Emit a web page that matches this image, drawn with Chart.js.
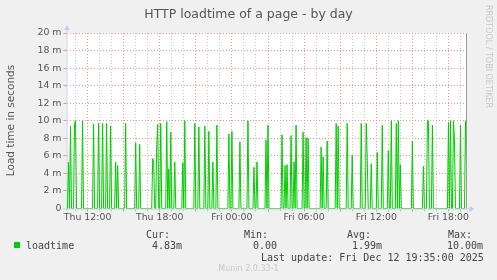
<!DOCTYPE html>
<html lang="en">
  <head>
    <meta charset="UTF-8" />
    <title>HTTP loadtime of a page - by day</title>
    <script src="https://cdn.jsdelivr.net/npm/chart.js"></script>
    <style>
      body {
        margin: 0;
        background-color: #f0f0f0;
        overflow: hidden;
      }
      #chart {
        display: block;
      }
    </style>
  </head>
  <body>
    <canvas id="chart" width="497" height="280"></canvas>

    <script>
      // one sample every 5 minutes, step 0 = Thu 10:15
      // [step, loadtime in ms]
      const loadtimeSamples = [
        [0, 0], [1, 0], [2, 5.3], [3, 0], [4, 9.4], [5, 0], [7, 0], [8, 9.7], [9, 10], [10, 0],
        [15, 0], [16, 10], [17, 0], [26, 0], [27, 9.6], [28, 0], [31, 0], [32, 9.7], [33, 0],
        [35, 0], [36, 9.7], [37, 0], [39, 0], [40, 9.7], [41, 0], [43, 0], [44, 9.4], [45, 0],
        [48, 0], [49, 5.3], [50, 0], [51, 4.9], [52, 0], [58, 0], [59, 9.7], [60, 0],
        [68, 0], [69, 7.5], [70, 0], [72, 0], [73, 7.3], [74, 0], [85, 0], [86, 5.7], [87, 5.2],
        [88, 0], [89, 0], [90, 7.3], [91, 9.6], [92, 0], [93, 0], [94, 9.7], [95, 0],
        [99, 0], [100, 9.9], [101, 0], [102, 4.5], [103, 0], [104, 8.7], [105, 0], [107, 0],
        [108, 5.3], [109, 0], [115, 0], [116, 5.2], [117, 0], [118, 10], [119, 0],
        [127, 0], [128, 9.7], [129, 0], [131, 0], [132, 9.3], [133, 0], [137, 0], [138, 9.4],
        [139, 0], [141, 0], [142, 8.8], [143, 0], [145, 0], [146, 5.3], [147, 0], [149, 0],
        [150, 9.5], [151, 0], [161, 0], [162, 8.5], [163, 0], [164, 0], [165, 8.8], [166, 0],
        [172, 0], [173, 7.6], [174, 0], [180, 0], [181, 10], [182, 0], [186, 0], [187, 4.7],
        [188, 0], [189, 0], [190, 5.3], [191, 0], [198, 0], [199, 7.8], [200, 0], [201, 9.5],
        [202, 0], [214, 0], [215, 8.4], [216, 0], [217, 0], [218, 4.9], [219, 0], [220, 5.0],
        [221, 0], [223, 0], [224, 8.3], [225, 0], [226, 0], [227, 5.3], [228, 0], [229, 9.5],
        [230, 0], [235, 0], [236, 8.7], [237, 0], [238, 0], [239, 8.1], [240, 0], [241, 8.0],
        [242, 0], [253, 0], [254, 7.0], [255, 0], [256, 5.9], [257, 0], [259, 0], [260, 7.7],
        [261, 0], [268, 0], [269, 9.7], [270, 0], [271, 9.4], [272, 0], [279, 0], [280, 9.7],
        [281, 0], [284, 0], [285, 6.1], [286, 0], [293, 0], [294, 9.7], [295, 0], [298, 0],
        [299, 9.7], [300, 5.5], [301, 0], [303, 0], [304, 5.1], [305, 0], [309, 0], [310, 6.4],
        [311, 0], [314, 0], [315, 9.5], [316, 0], [320, 0], [321, 6.6], [322, 0], [323, 0],
        [324, 10], [325, 0], [328, 0], [329, 9.7], [330, 0], [331, 10], [332, 0], [333, 5.0],
        [334, 0], [344, 0], [345, 7.7], [346, 0], [355, 0], [356, 4.8], [357, 0], [359, 0],
        [360, 10], [361, 10], [362, 0], [364, 0], [365, 9.5], [366, 0], [380, 0], [381, 9.8],
        [382, 0], [383, 10], [384, 0], [385, 0], [386, 10], [387, 7.8], [388, 0], [392, 0],
        [393, 9.5], [394, 0], [397, 0], [398, 10], [399, 4.83]
      ];

      const xTickSteps = [21, 93, 165, 237, 309, 381];
      const xTickLabels = ["Thu 12:00", "Thu 18:00", "Fri 00:00", "Fri 06:00", "Fri 12:00", "Fri 18:00"];
      const yTickLabels = ["0", "2 m", "4 m", "6 m", "8 m", "10 m", "12 m", "14 m", "16 m", "18 m", "20 m"];

      const legendStats = [
        ["Cur:", 146, "4.83m", 152],
        ["Min:", 244, "0.00", 253],
        ["Avg:", 347, "1.99m", 352],
        ["Max:", 448, "10.00m", 447]
      ];

      // hourly grid steps (11:00 is step 9)
      const hourSteps = [];
      for (let s = 9; s <= 399; s += 12) hourSteps.push(s);

      const RED_GRID = "#ee9090";
      const GREY_GRID = "#c4c4c4";
      const AXIS = "#c8ccf4";

      const munin = {
        id: "munin",
        beforeDraw(chart) {
          const { ctx, chartArea: a } = chart;
          ctx.save();
          ctx.fillStyle = "#fff";
          ctx.fillRect(a.left, a.top, a.right - a.left, a.bottom - a.top);
          ctx.restore();
        },
        beforeDatasetsDraw(chart) {
          const { ctx, chartArea: a } = chart;
          ctx.save();
          ctx.strokeStyle = AXIS;
          ctx.fillStyle = AXIS;
          ctx.lineWidth = 1;
          ctx.beginPath();
          ctx.moveTo(a.left + 0.5, a.bottom + 3);
          ctx.lineTo(a.left + 0.5, a.top - 4);
          ctx.moveTo(a.left - 3, a.bottom + 0.5);
          ctx.lineTo(a.right + 4, a.bottom + 0.5);
          ctx.stroke();
          ctx.beginPath();
          ctx.moveTo(a.left - 2.5, a.top - 3);
          ctx.lineTo(a.left + 3.5, a.top - 3);
          ctx.lineTo(a.left + 0.5, a.top - 8);
          ctx.fill();
          ctx.beginPath();
          ctx.moveTo(a.right + 3, a.bottom - 2.5);
          ctx.lineTo(a.right + 3, a.bottom + 3.5);
          ctx.lineTo(a.right + 8, a.bottom + 0.5);
          ctx.fill();
          ctx.restore();
        },
        afterDraw(chart) {
          const { ctx, chartArea: a } = chart;
          ctx.save();
          // right edge marker
          ctx.strokeStyle = "#999";
          ctx.beginPath();
          ctx.moveTo(Math.round(a.right) - 0.5, a.top);
          ctx.lineTo(Math.round(a.right) - 0.5, a.bottom);
          ctx.stroke();

          ctx.fillStyle = "#555";
          ctx.font = "12.5px 'DejaVu Sans'";
          ctx.textAlign = "center";
          ctx.textBaseline = "alphabetic";
          ctx.fillText("HTTP loadtime of a page - by day", 248.5, 18);

          ctx.save();
          ctx.translate(14, 120.5);
          ctx.rotate(-Math.PI / 2);
          ctx.font = "10.5px 'DejaVu Sans'";
          ctx.fillText("Load time in seconds", 0, 0);
          ctx.restore();

          ctx.save();
          ctx.translate(485.5, 56.5);
          ctx.rotate(Math.PI / 2);
          ctx.fillStyle = "#c8c8c8";
          ctx.font = "8px 'DejaVu Sans'";
          ctx.fillText("RRDTOOL / TOBI OETIKER", 0, 0);
          ctx.restore();

          ctx.fillStyle = "#00cc00";
          ctx.fillRect(14, 242, 6, 6);

          ctx.fillStyle = "#444";
          ctx.font = "10px 'DejaVu Sans Mono'";
          ctx.textAlign = "left";
          ctx.fillText("loadtime", 26, 249);
          legendStats.forEach(([name, nx, val, vx]) => {
            ctx.fillText(name, nx, 237.5);
            ctx.fillText(val, vx, 249);
          });
          ctx.fillText("Last update: Fri Dec 12 19:35:00 2025", 261, 261);

          ctx.fillStyle = "#c8c8c8";
          ctx.font = "8px 'DejaVu Sans'";
          ctx.textAlign = "center";
          ctx.fillText("Munin 2.0.33-1", 248.5, 271);
          ctx.restore();
        }
      };

      new Chart(document.getElementById("chart"), {
        type: "line",
        data: {
          datasets: [{
            label: "loadtime",
            data: loadtimeSamples.map(([s, v]) => ({ x: s, y: v })),
            borderColor: "#00cc00",
            borderWidth: 1,
            pointRadius: 0,
            tension: 0,
            fill: false
          }]
        },
        options: {
          responsive: false,
          animation: false,
          events: [],
          layout: {
            padding: { left: 0, right: 30.5, top: 33, bottom: 57.5 }
          },
          plugins: {
            legend: { display: false },
            tooltip: { enabled: false }
          },
          scales: {
            x: {
              type: "linear",
              min: 0,
              max: 399,
              afterBuildTicks(scale) {
                scale.ticks = hourSteps.map(v => ({ value: v }));
              },
              afterFit(scale) {
                scale.height = 14;
              },
              ticks: {
                autoSkip: false,
                maxRotation: 0,
                padding: 0,
                color: "#555",
                font: { family: "DejaVu Sans", size: 9.4 },
                callback(v) {
                  const k = xTickSteps.indexOf(v);
                  return k >= 0 ? xTickLabels[k] : "";
                }
              },
              grid: {
                tickLength: 3,
                color(c) {
                  return (c.tick.value - 21) % 36 === 0 ? RED_GRID : GREY_GRID;
                }
              },
              border: { display: false, dash: [1, 2] }
            },
            y: {
              min: 0,
              max: 20,
              afterFit(scale) {
                scale.width = 66.5;
              },
              ticks: {
                stepSize: 1,
                padding: 2,
                color: "#555",
                font: { family: "DejaVu Sans", size: 9.4 },
                callback(v) {
                  return v % 2 === 0 ? yTickLabels[v / 2] : "";
                }
              },
              grid: {
                tickLength: 3,
                color(c) {
                  if (c.tick.value === 0) return "rgba(0,0,0,0)";
                  return c.tick.value % 2 === 0 ? RED_GRID : GREY_GRID;
                }
              },
              border: { display: false, dash: [1, 2] }
            }
          }
        },
        plugins: [munin]
      });
    </script>
  </body>
</html>
